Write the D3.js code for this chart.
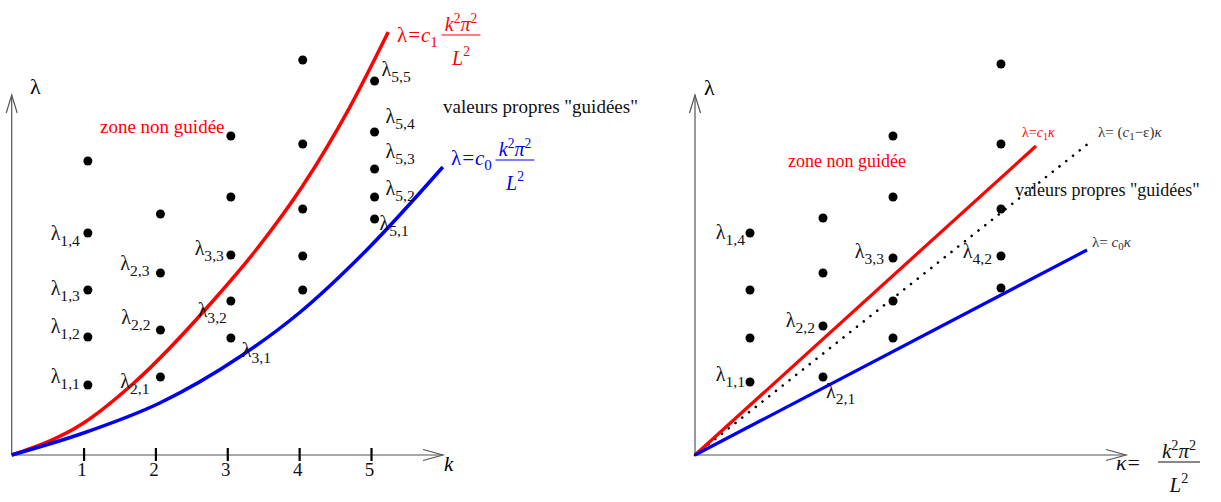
<!DOCTYPE html>
<html>
<head>
<meta charset="utf-8">
<script src="https://cdn.jsdelivr.net/npm/d3@7"></script>
<style>
  body { margin: 0; background: #fff; }
  text { font-family: "Liberation Serif", "Times New Roman", serif; }
</style>
</head>
<body>
<div id="chart"></div>
<script>
// ---- left panel : lambda against k (arbitrary units) ----
const kTicks = [1, 2, 3, 4, 5];
const kColumns = [1.06, 2.07, 3.05, 4.05, 5.05];
const lambdaLeft = [
    [17.5, 29.5, 41.25, 55.5, 73.5],
    [19.5, 31.25, 45.5, 60.25],
    [29.25, 38.5, 50, 64.5, 79.75],
    [41.25, 49.75, 61.5, 77.75, 98.75],
    [59, 64.5, 71.5, 80.75, 93.5]
];
const redCurveK = [0, 1, 1.7, 2.8, 3.4, 4.05, 4.7, 5.24];
const redCurveL = [0, 8, 18, 38.5, 51.25, 67.3, 86.8, 105.75];
const blueCurveK = [0, 1, 2.06, 3.17, 4, 4.94, 6];
const blueCurveL = [0, 5.5, 13, 24.5, 35.5, 51.25, 72];
const leftLabels = [[1, 4], [1, 3], [1, 2], [1, 1], [2, 3], [2, 2], [2, 1], [3, 3], [3, 2], [3, 1],
    [5, 5], [5, 4], [5, 3], [5, 2], [5, 1]];

// ---- right panel : lambda against kappa = k^2 pi^2 / L^2 ----
const kappaColumns = [1.375, 3.2, 4.95, 7.65];
const lambdaRight = [
    [18.25, 29.25, 41.25, 55.5],
    [19.5, 32.25, 45.5, 59.25],
    [29.25, 38.5, 49.25, 64.5, 79.75],
    [41.75, 49.75, 61.5, 77.75, 97.75]
];
const lineC1End = [8.525, 77.25];
const lineEpsEnd = [9.85, 78];
const lineC0End = [9.8, 51.25];
const rightLabels = [[1, 4], [1, 1], [2, 2], [2, 1], [3, 3], [4, 2]];

// label placement around its dot: [anchor, dx, dy]
const leftLabelLayout = {
    "1,4": ["end", -8, 7], "1,3": ["end", -8, 5], "1,2": ["end", -8, -4], "1,1": ["end", -8, -2],
    "2,3": ["end", -11, -3], "2,2": ["end", -10, -6], "2,1": ["end", -11, 11],
    "3,3": ["end", -7, 0], "3,2": ["end", -4, 16], "3,1": ["start", 11, 19],
    "5,5": ["start", 7, -5], "5,4": ["start", 11, -9], "5,3": ["start", 11, -11],
    "5,2": ["start", 11, -2], "5,1": ["start", 5, 11]
};
const rightLabelLayout = {
    "1,4": ["end", -5, 6], "1,1": ["end", -5, -1], "2,2": ["end", -8, 1],
    "2,1": ["start", 3, 21], "3,3": ["end", -9, 0], "4,2": ["end", -9, 2]
};

const RED = "#ff0000", BLUE = "#0000f0", AXIS = "#555";
const FONT = "Liberation Serif, Times New Roman, serif";

const svg = d3.select("#chart").append("svg")
    .attr("width", 1221)
    .attr("height", 502)
    .attr("font-family", FONT);

const xL = d3.scaleLinear().domain([0, 5]).range([11.7, 371]);
const yL = d3.scaleLinear().domain([0, 100]).range([455, 55]);
const xR = d3.scaleLinear().domain([0, 10]).range([695, 1095]);
const yR = yL.copy();

function arrowAxes(g, x, y, xEnd, yTop) {
    const x0 = x(0), y0 = y(0);
    g.append("line").attr("x1", x0).attr("y1", y0).attr("x2", xEnd).attr("y2", y0)
        .attr("stroke", AXIS).attr("stroke-width", 1.2);
    g.append("path").attr("d", `M${xEnd - 20},${y0 - 5.5}L${xEnd},${y0}L${xEnd - 20},${y0 + 5.5}`)
        .attr("fill", "none").attr("stroke", AXIS).attr("stroke-width", 1.2);
    g.append("line").attr("x1", x0).attr("y1", y0).attr("x2", x0).attr("y2", yTop)
        .attr("stroke", AXIS).attr("stroke-width", 1.2);
    g.append("path").attr("d", `M${x0 - 5.5},${yTop + 18}L${x0},${yTop}L${x0 + 5.5},${yTop + 18}`)
        .attr("fill", "none").attr("stroke", AXIS).attr("stroke-width", 1.2);
}

function lambdaLabel(g, x, y, anchor, sub, size) {
    const t = g.append("text").attr("x", x).attr("y", y).attr("text-anchor", anchor)
        .attr("font-size", size).attr("fill", "#111");
    t.append("tspan").text("λ");
    t.append("tspan").attr("font-size", size * 0.78).attr("dy", size * 0.3).text(sub);
}

function dotsAndLabels(g, x, y, columns, values, labels, layout) {
    values.forEach((col, i) => {
        g.selectAll(null).data(col).join("circle")
            .attr("cx", x(columns[i])).attr("cy", d => y(d)).attr("r", 4.5).attr("fill", "#000");
    });
    labels.forEach(([i, j]) => {
        const key = i + "," + j;
        const [anchor, dx, dy] = layout[key];
        lambdaLabel(g, x(columns[i - 1]) + dx, y(values[i - 1][j - 1]) + dy, anchor, key, 20);
    });
}

// fraction k^2 pi^2 / L^2 centred at cx, bar at barY
function kPiOverL(g, cx, barY, halfW, color, size) {
    g.append("line").attr("x1", cx - halfW).attr("x2", cx + halfW).attr("y1", barY).attr("y2", barY)
        .attr("stroke", color).attr("stroke-width", 1);
    const num = g.append("text").attr("x", cx).attr("y", barY - 4).attr("text-anchor", "middle")
        .attr("font-size", size).attr("fill", color);
    num.append("tspan").attr("font-style", "italic").text("k");
    num.append("tspan").attr("font-size", size * 0.68).attr("dy", -size * 0.4).text("2");
    num.append("tspan").attr("font-style", "italic").attr("dy", size * 0.4).text("π");
    num.append("tspan").attr("font-size", size * 0.68).attr("dy", -size * 0.4).text("2");
    const den = g.append("text").attr("x", cx).attr("y", barY + 30).attr("text-anchor", "middle")
        .attr("font-size", size).attr("fill", color);
    den.append("tspan").attr("font-style", "italic").text("L");
    den.append("tspan").attr("font-size", size * 0.68).attr("dy", -size * 0.45).text("2");
}

function lambdaEqC(g, x, y, color, sub) {
    const t = g.append("text").attr("x", x).attr("y", y).attr("font-size", 21).attr("fill", color);
    t.append("tspan").text("λ");
    t.append("tspan").attr("dx", 1).text("=");
    t.append("tspan").attr("dx", 1).attr("font-style", "italic").text("c");
    t.append("tspan").attr("font-size", 15).attr("dy", 5).text(sub);
}

// ================= left panel =================
const left = svg.append("g");
arrowAxes(left, xL, yL, 443, 95);

const kAxis = d3.axisBottom(xL).tickValues(kTicks).tickFormat(d3.format("d")).tickSize(6);
const kAxisG = left.append("g").attr("transform", `translate(0,${yL(0)})`).call(kAxis)
    .attr("font-family", FONT);
kAxisG.select(".domain").remove();
kAxisG.selectAll(".tick line").attr("y1", -7).attr("y2", 6).attr("stroke", "#000").attr("stroke-width", 2.2);
kAxisG.selectAll(".tick text").attr("font-size", 19)
    .attr("fill", "#111").attr("x", -2).attr("y", 8).attr("dy", "0.71em");

left.append("text").attr("x", 444).attr("y", 471).attr("font-size", 21).attr("font-style", "italic").text("k");
left.append("text").attr("x", 30).attr("y", 94).attr("font-size", 22).text("λ");

const smooth = d3.line().curve(d3.curveMonotoneX);
left.append("path")
    .attr("d", smooth(redCurveK.map((k, i) => [xL(k), yL(redCurveL[i])])))
    .attr("fill", "none").attr("stroke", RED).attr("stroke-width", 3.5);
left.append("path")
    .attr("d", smooth(blueCurveK.map((k, i) => [xL(k), yL(blueCurveL[i])])))
    .attr("fill", "none").attr("stroke", BLUE).attr("stroke-width", 3.5);

dotsAndLabels(left, xL, yL, kColumns, lambdaLeft, leftLabels, leftLabelLayout);

left.append("text").attr("x", 100).attr("y", 133).attr("font-size", 19).attr("fill", RED).text("zone non guidée");
left.append("text").attr("x", 443).attr("y", 113).attr("font-size", 19).attr("fill", "#111")
    .text("valeurs propres \"guidées\"");

lambdaEqC(left, 397, 42, RED, "1");
kPiOverL(left, 461, 35, 19.5, RED, 20);
lambdaEqC(left, 451, 165, BLUE, "0");
kPiOverL(left, 515, 160, 19.5, BLUE, 20);

// ================= right panel =================
const right = svg.append("g");
arrowAxes(right, xR, yR, 1126, 95);
right.append("text").attr("x", 704).attr("y", 95).attr("font-size", 22).text("λ");

const straight = d3.line();
right.append("path").attr("d", straight([[xR(0), yR(0)], [xR(lineEpsEnd[0]), yR(lineEpsEnd[1])]]))
    .attr("stroke", "#000").attr("stroke-width", 2.6).attr("stroke-linecap", "round")
    .attr("stroke-dasharray", "0.01 8.6").attr("fill", "none");
right.append("path").attr("d", straight([[xR(0), yR(0)], [xR(lineC1End[0]), yR(lineC1End[1])]]))
    .attr("stroke", RED).attr("stroke-width", 3.2).attr("fill", "none");
right.append("path").attr("d", straight([[xR(0), yR(0)], [xR(lineC0End[0]), yR(lineC0End[1])]]))
    .attr("stroke", BLUE).attr("stroke-width", 3.2).attr("fill", "none");

dotsAndLabels(right, xR, yR, kappaColumns, lambdaRight, rightLabels, rightLabelLayout);

right.append("text").attr("x", 788).attr("y", 167).attr("font-size", 18).attr("fill", RED).text("zone non guidée");
right.append("text").attr("x", 1015).attr("y", 196).attr("font-size", 18).attr("fill", "#111")
    .text("valeurs propres \"guidées\"");

// small line labels: lambda = c1 kappa, lambda = (c1 - eps) kappa, lambda = c0 kappa
const l1 = right.append("text").attr("x", 1022).attr("y", 137).attr("font-size", 14).attr("fill", RED);
l1.append("tspan").text("λ=");
l1.append("tspan").attr("font-style", "italic").text("c");
l1.append("tspan").attr("font-size", 10).attr("dy", 3).text("1");
l1.append("tspan").attr("font-style", "italic").attr("dy", -3).text("κ");

const l2 = right.append("text").attr("x", 1098).attr("y", 137).attr("font-size", 15).attr("fill", "#333");
l2.append("tspan").text("λ= (");
l2.append("tspan").attr("font-style", "italic").text("c");
l2.append("tspan").attr("font-size", 11).attr("dy", 3).text("1");
l2.append("tspan").attr("dy", -3).text("−ε)");
l2.append("tspan").attr("font-style", "italic").text("κ");

const l3 = right.append("text").attr("x", 1092).attr("y", 247).attr("font-size", 15).attr("fill", "#333");
l3.append("tspan").text("λ= ");
l3.append("tspan").attr("font-style", "italic").text("c");
l3.append("tspan").attr("font-size", 11).attr("dy", 3).text("0");
l3.append("tspan").attr("font-style", "italic").attr("dy", -3).text("κ");

const kap = right.append("text").attr("x", 1116).attr("y", 470).attr("font-size", 22).attr("fill", "#111");
kap.append("tspan").attr("font-style", "italic").text("κ");
kap.append("tspan").attr("dx", 1).text("=");
kPiOverL(right, 1179, 462, 21, "#111", 21);
</script>
</body>
</html>
